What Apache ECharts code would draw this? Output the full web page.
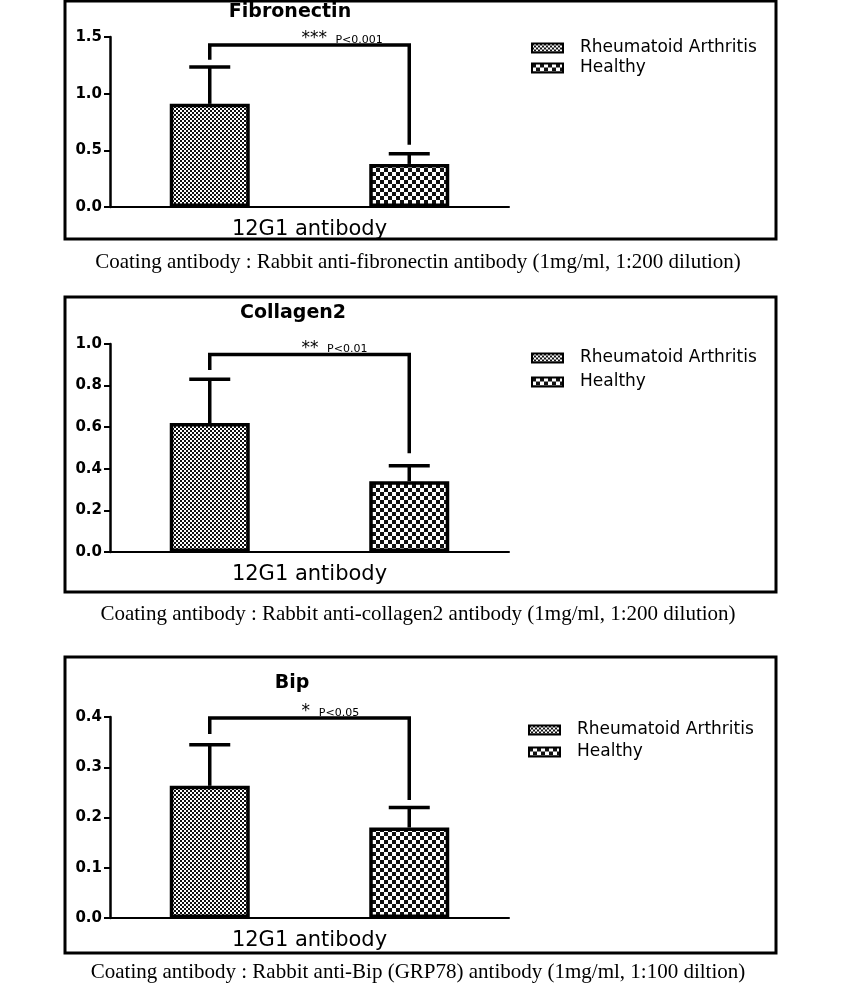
<!DOCTYPE html>
<html>
<head>
<meta charset="utf-8">
<script src="https://cdn.jsdelivr.net/npm/echarts@6/dist/echarts.min.js"></script>
<style>
html,body{margin:0;padding:0;background:#fff;}
#chart{width:846px;height:998px;}
</style>
</head>
<body>
<div id="chart"></div>
<script>
// ---------- data ----------
const panelTitles = ['Fibronectin', 'Collagen2', 'Bip'];
const groups = ['Rheumatoid Arthritis', 'Healthy'];
const categoryLabel = '12G1 antibody';
const raMeans = [0.91, 0.62, 0.263];
const raUpper = [1.235, 0.83, 0.345];
const healthyMeans = [0.38, 0.34, 0.18];
const healthyUpper = [0.47, 0.415, 0.22];
const yMax = [1.5, 1.0, 0.4];
const yInterval = [0.5, 0.2, 0.1];
const bracketLevel = [1.43, 0.95, 0.398];
const bracketLeftEnd = [1.30, 0.875, 0.366];
const bracketRightEnd = [0.55, 0.475, 0.235];
const sigStars = ['***', '**', '*'];
const pLabels = ['P<0.001', 'P<0.01', 'P<0.05'];
const captions = [
  'Coating antibody : Rabbit anti-fibronectin antibody (1mg/ml, 1:200 dilution)',
  'Coating antibody : Rabbit anti-collagen2 antibody (1mg/ml, 1:200 dilution)',
  'Coating antibody : Rabbit anti-Bip (GRP78) antibody (1mg/ml, 1:100 diltion)'
];

// ---------- layout (styles / positions) ----------
const boxes = [{y: 1, h: 238}, {y: 297, h: 295}, {y: 657, h: 296}];
const grids = [{top: 37, height: 170}, {top: 344, height: 208}, {top: 717, height: 201}];
const titleY = [12, 313, 683];
const titleX = [290, 293, 292];
const legendPos = [{left: 531, top: 39, gap: 2}, {left: 531, top: 349, gap: 6}, {left: 528, top: 721, gap: 4}];
const captionY = [262, 614, 972];
const SANS = '"DejaVu Sans", sans-serif';

function makePattern(cell, period) {
  const c = document.createElement('canvas');
  c.width = period; c.height = period;
  const ctx = c.getContext('2d');
  ctx.fillStyle = '#fff'; ctx.fillRect(0, 0, period, period);
  ctx.fillStyle = '#111';
  ctx.fillRect(0, 0, cell, cell);
  ctx.fillRect(cell, cell, cell, cell);
  return {image: c, repeat: 'repeat'};
}
const finePattern = makePattern(2, 4);
const coarsePattern = makePattern(4, 8);

const chart = echarts.init(document.getElementById('chart'), null, {renderer: 'canvas'});

const option = {
  backgroundColor: '#fff',
  animation: false,
  grid: [], xAxis: [], yAxis: [], series: [], legend: [], graphic: []
};

for (let i = 0; i < 3; i++) {
  option.grid.push({left: 110, width: 399, top: grids[i].top, height: grids[i].height, outerBoundsMode: 'none', containLabel: false});
  option.xAxis.push({
    gridIndex: i, type: 'category', data: groups,
    axisLine: {lineStyle: {color: '#000', width: 2}},
    axisTick: {alignWithLabel: true, length: 7, lineStyle: {color: '#000', width: 2}},
    axisLabel: {show: false},
    name: categoryLabel, nameLocation: 'middle', nameGap: 12,
    nameTextStyle: {fontSize: 21, fontFamily: SANS, color: '#000'}
  });
  option.yAxis.push({
    gridIndex: i, type: 'value', min: 0, max: yMax[i], interval: yInterval[i],
    axisLine: {show: true, lineStyle: {color: '#000', width: 2.5}},
    axisTick: {show: true, length: 6, lineStyle: {color: '#000', width: 2}},
    splitLine: {show: false},
    axisLabel: {fontWeight: 'bold', fontSize: 15, fontFamily: SANS, color: '#000', margin: 8,
      formatter: v => v.toFixed(1)}
  });
  option.series.push({
    name: groups[0], type: 'bar', xAxisIndex: i, yAxisIndex: i,
    data: [raMeans[i], '-'], barWidth: 80, barGap: '-100%',
    itemStyle: {color: finePattern, borderColor: '#000', borderWidth: 3.5}
  });
  option.series.push({
    name: groups[1], type: 'bar', xAxisIndex: i, yAxisIndex: i,
    data: ['-', healthyMeans[i]], barWidth: 80, barGap: '-100%',
    itemStyle: {color: coarsePattern, borderColor: '#000', borderWidth: 3.5}
  });
  option.series.push({
    type: 'custom', xAxisIndex: i, yAxisIndex: i, silent: true, z: 3,
    encode: {x: 0, y: [1, 2]},
    data: [[0, raMeans[i], raUpper[i]], [1, healthyMeans[i], healthyUpper[i]]],
    renderItem: function (params, api) {
      const base = api.coord([api.value(0), api.value(1)]);
      const top = api.coord([api.value(0), api.value(2)]);
      const half = 20.5;
      const st = {stroke: '#000', lineWidth: 3.5};
      return {type: 'group', children: [
        {type: 'line', shape: {x1: base[0], y1: base[1], x2: top[0], y2: top[1]}, style: st},
        {type: 'line', shape: {x1: top[0] - half, y1: top[1], x2: top[0] + half, y2: top[1]}, style: st}
      ]};
    }
  });
  const pi = i;
  option.series.push({
    type: 'custom', xAxisIndex: i, yAxisIndex: i, silent: true, z: 3,
    encode: {x: [0, 1], y: [2, 3, 4]},
    data: [[0, 1, bracketLevel[i], bracketLeftEnd[i], bracketRightEnd[i]]],
    renderItem: function (params, api) {
      const l = api.coord([api.value(0), api.value(2)]);
      const r = api.coord([api.value(1), api.value(2)]);
      const le = api.coord([api.value(0), api.value(3)]);
      const re = api.coord([api.value(1), api.value(4)]);
      const mid = (l[0] + r[0]) / 2;
      const n = sigStars[pi].length;
      const sx = mid - 8;
      return {type: 'group', children: [
        {type: 'polyline', shape: {points: [[l[0], le[1]], l, r, [r[0], re[1]]]},
          style: {stroke: '#000', lineWidth: 3.5, fill: null}},
        {type: 'text', x: sx, y: l[1] - 6,
          style: {text: sigStars[pi], fill: '#000', font: '17px ' + SANS, align: 'left', verticalAlign: 'middle'}},
        {type: 'text', x: sx + n * 8.3 + 9, y: l[1] - 5,
          style: {text: pLabels[pi], fill: '#000', font: '11px ' + SANS, align: 'left', verticalAlign: 'middle'}}
      ]};
    }
  });
  option.legend.push({
    data: groups.map(g => ({name: g, icon: 'rect'})), orient: 'vertical', left: legendPos[i].left, top: legendPos[i].top,
    itemWidth: 31, itemHeight: 9, itemGap: legendPos[i].gap, padding: 0,
    selectedMode: false,
    itemStyle: {borderColor: '#000', borderWidth: 2},
    textStyle: {fontSize: 17, fontFamily: SANS, color: '#000', lineHeight: 18, padding: [0, 0, 0, 12]}
  });
  option.graphic.push({
    type: 'rect', silent: true,
    shape: {x: 65, y: boxes[i].y, width: 711, height: boxes[i].h},
    style: {fill: null, stroke: '#000', lineWidth: 3}
  });
  option.graphic.push({
    type: 'text', silent: true, x: titleX[i], y: titleY[i],
    style: {text: panelTitles[i], fill: '#000', font: 'bold 19px ' + SANS, align: 'center', verticalAlign: 'middle'}
  });
  option.graphic.push({
    type: 'text', silent: true, x: 418, y: captionY[i],
    style: {text: captions[i], fill: '#000', font: '21px "Liberation Serif", "Times New Roman", serif', align: 'center', verticalAlign: 'middle'}
  });
}

chart.setOption(option);
</script>
</body>
</html>
